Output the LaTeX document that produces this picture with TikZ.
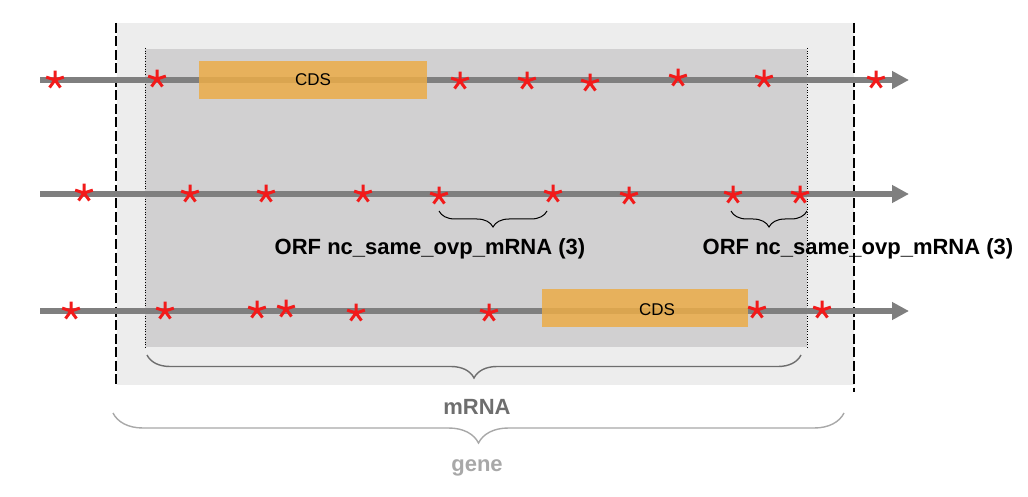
\documentclass[tikz,border=0pt]{standalone}
\usepackage{fontspec}
\setmainfont{Liberation Sans}
\usetikzlibrary{arrows.meta,decorations.pathreplacing}
\definecolor{genebg}{HTML}{EDEDED}
\definecolor{mrnabg}{HTML}{D1D0D1}
\definecolor{seqline}{HTML}{7F7F7F}
\definecolor{cdsfill}{HTML}{EBAC48}
\definecolor{astred}{HTML}{F21A1A}
\definecolor{mrnatext}{HTML}{6E6E6E}
\definecolor{genetext}{HTML}{A8A8A8}
\tikzset{
  ast/.style={circle, inner sep=0pt, minimum size=21pt,
    path picture={\draw[astred, line width=3pt]
      (path picture bounding box.center) -- ++(270:9.3)
      (path picture bounding box.center) -- ++(198:9.3)
      (path picture bounding box.center) -- ++(342:9.3)
      (path picture bounding box.center) -- ++(126:9.3)
      (path picture bounding box.center) -- ++(54:9.3);}},
  seq/.style={draw=seqline, line width=5.5pt, -{Triangle[length=17pt,width=17pt]}},
  cds/.style={fill=cdsfill, fill opacity=0.85, text opacity=1, inner sep=0pt, font=\fontsize{17}{18}\selectfont},
  orflabel/.style={font=\fontsize{22}{24}\selectfont\bfseries},
  orfbrace/.style={draw=black, line width=1pt, decorate, decoration={brace, amplitude=16pt, mirror}},
  boundary/.style={draw=black, line width=1.2pt, dash pattern=on 10pt off 3.5pt},
  mboundary/.style={draw=black, line width=0.9pt, dash pattern=on 1pt off 1.6pt},
}
\begin{document}
\begin{tikzpicture}[x=1pt,y=-1pt]
\useasboundingbox (0,0) rectangle (1028,497);
% regions
\fill[genebg] (117,23) rectangle (854,385);
\fill[mrnabg] (145,49) rectangle (807,347);
\draw[boundary] (116,23) -- (116,386);
\draw[boundary] (854,23) -- (854,392);
\draw[mboundary] (145,48) -- (145,348);
\draw[mboundary] (807,48) -- (807,348);
% sequence lines
\coordinate (s1) at (40,80);  \coordinate (e1) at (909,80);
\coordinate (s2) at (40,194); \coordinate (e2) at (909,194);
\coordinate (s3) at (40,311); \coordinate (e3) at (909,311);
\draw[seq] (s1) -- (e1);
\draw[seq] (s2) -- (e2);
\draw[seq] (s3) -- (e3);
% CDS boxes
\node[cds, minimum width=228pt, minimum height=38pt] (cds1) at (313,80) {CDS};
\node[cds, minimum width=206pt, minimum height=38pt] (cds3) at (645,308) {};
\node[font=\fontsize{17}{18}\selectfont] (cds3t) at (657,310) {CDS};
% asterisks row 1
\node[ast] (a11) at (55,80) {};
\node[ast] (a12) at (157,79) {};
\node[ast] (a13) at (460,81) {};
\node[ast] (a14) at (527,81) {};
\node[ast] (a15) at (590,83) {};
\node[ast] (a16) at (678,78) {};
\node[ast] (a17) at (764,79) {};
\node[ast] (a18) at (876,80) {};
% asterisks row 2
\node[ast] (a21) at (84,193) {};
\node[ast] (a22) at (190,194) {};
\node[ast] (a23) at (266,194) {};
\node[ast] (a24) at (363,194) {};
\node[ast] (a25) at (439,196) {};
\node[ast] (a26) at (553,194) {};
\node[ast] (a27) at (629,196) {};
\node[ast] (a28) at (733,195) {};
\node[ast] (a29) at (800,195) {};
% asterisks row 3
\node[ast] (a31) at (71,311) {};
\node[ast] (a32) at (165,311) {};
\node[ast] (a33) at (257,310) {};
\node[ast] (a34) at (286,309) {};
\node[ast] (a35) at (356,313) {};
\node[ast] (a36) at (489,313) {};
\node[ast] (a37) at (757,310) {};
\node[ast] (a38) at (822,310) {};
% ORF braces
\coordinate (b1s) at (439,211); \coordinate (b1e) at (547,211);
\coordinate (b2s) at (731,211); \coordinate (b2e) at (807,211);
\draw[orfbrace] (b1s) -- (b1e);
\draw[orfbrace] (b2s) -- (b2e);
\node[orflabel] (orf1) at (430,249) {ORF nc\_same\_ovp\_mRNA (3)};
\node[orflabel] (orf2) at (858,249) {ORF nc\_same\_ovp\_mRNA (3)};
% mRNA brace
\coordinate (ms) at (147,355); \coordinate (me) at (801,355);
\draw[draw=mrnatext, line width=1.4pt, decorate, decoration={brace, amplitude=23pt, mirror}] (ms) -- (me);
\node[font=\fontsize{22}{24}\selectfont\bfseries, text=mrnatext] (mrna) at (477,407) {mRNA};
% gene brace
\coordinate (gs) at (113,413); \coordinate (ge) at (844,413);
\draw[draw=genetext, line width=1.4pt, decorate, decoration={brace, amplitude=30pt, mirror}] (gs) -- (ge);
\node[font=\fontsize{22}{24}\selectfont\bfseries, text=genetext] (gene) at (477,468) {gene};
\end{tikzpicture}
\end{document}
